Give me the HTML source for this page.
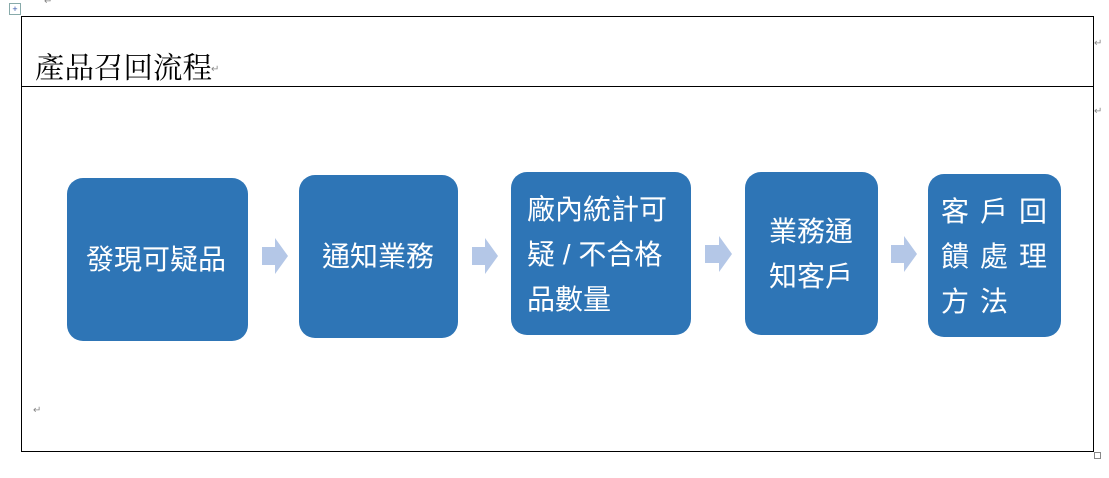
<!DOCTYPE html>
<html><head><meta charset="utf-8"><style>
body{margin:0;width:1109px;height:478px;background:#fff;position:relative;overflow:hidden;font-family:"Liberation Sans","Noto Sans CJK TC",sans-serif}
.a{position:absolute}
.b{position:absolute;background:#2E75B6;border-radius:16px;color:#fff;font-size:28px;line-height:45px}
.t{position:absolute;white-space:nowrap}
</style></head><body>
<div class="a" style="left:21px;top:16px;width:1071px;height:434px;border:1px solid #000"></div>
<div class="a" style="left:21px;top:86px;width:1072px;height:1px;background:#000"></div>
<div class="a" style="left:9px;top:3px;width:10px;height:10px;border:1px solid #8aa;color:#35a;font-size:9px;line-height:10px;text-align:center">+</div>
<div class="t" style="left:35px;top:50px;font-family:'Liberation Serif','Noto Serif CJK SC',serif;font-size:29.5px;line-height:38px;color:#000">產品召回流程</div>
<div class="t" style="left:211px;top:64px;font-size:10px;color:#888">↵</div>
<div class="t" style="left:44px;top:-4px;font-size:10px;color:#888">↵</div>
<div class="t" style="left:1094px;top:38px;font-size:10px;color:#888">↵</div>
<div class="t" style="left:1094px;top:106px;font-size:10px;color:#888">↵</div>
<div class="t" style="left:33px;top:405px;font-size:10px;color:#888">↵</div>
<div class="a" style="left:1094px;top:452px;width:5px;height:5px;border:1px solid #888"></div>

<div class="b" style="left:67px;top:178px;width:181px;height:163px"><div class="t" style="left:19px;top:59px">發現可疑品</div></div>
<div class="b" style="left:299px;top:175px;width:159px;height:163px"><div class="t" style="left:23px;top:59px">通知業務</div></div>
<div class="b" style="left:511px;top:172px;width:180px;height:163px"><div class="t" style="left:16px;top:15px">廠內統計可<br>疑 / 不合格<br>品數量</div></div>
<div class="b" style="left:745px;top:172px;width:133px;height:163px"><div class="t" style="left:24px;top:37px">業務通<br>知客戶</div></div>
<div class="b" style="left:928px;top:174px;width:133px;height:163px"><div class="t" style="left:13px;top:15px;letter-spacing:11px">客戶回<br>饋處理<br>方法</div></div>

<svg class="a" style="left:0;top:0" width="1109" height="478">
<g fill="#B4C7E7">
<path d="M262,247h13v-9l13,18l-13,18v-9h-13z"/>
<path d="M472,247h13v-9l13,18l-13,18v-9h-13z"/>
<path d="M705,245h14v-9l13,18l-13,18v-9h-14z"/>
<path d="M891,245h13v-9l13,18l-13,18v-9h-13z"/>
</g></svg>
</body></html>
